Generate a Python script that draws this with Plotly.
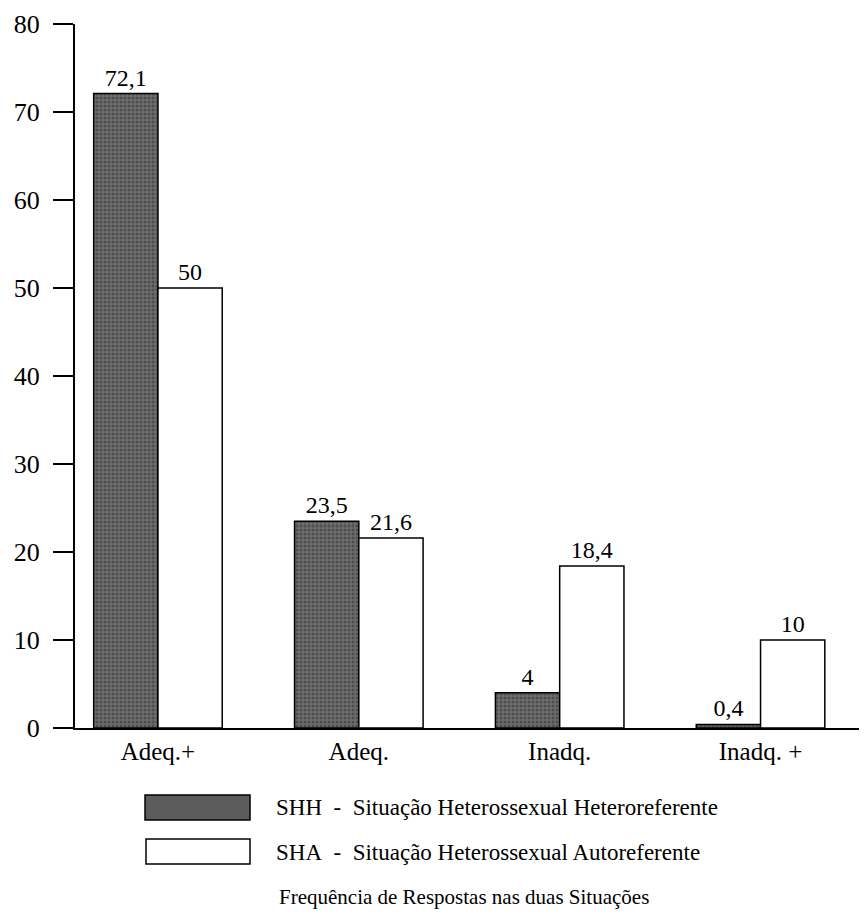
import plotly.graph_objects as go

categories = ["Adeq.+", "Adeq.", "Inadq.", "Inadq. +"]
shh_values = [72.1, 23.5, 4.0, 0.4]
sha_values = [50.0, 21.6, 18.4, 10.0]
shh_labels = ["72,1", "23,5", "4", "0,4"]
sha_labels = ["50", "21,6", "18,4", "10"]
y_ticks = [0, 10, 20, 30, 40, 50, 60, 70, 80]
NB = "\u00a0"
legend_texts = [f"SHH{NB*2}-{NB*2}Situação Heterossexual Heteroreferente",
                f"SHA{NB*2}-{NB*2}Situação Heterossexual Autoreferente"]
caption = "Frequência de Respostas nas duas Situações"

FONT = "Liberation Serif"
OFF = 8  # page body margin
W, H = 867 - OFF, 915 - OFF
# plot area in page pixels: left 75, top 24, bottom 728, right 867
ML, MR, MT, MB = 75 - OFF, 0, 24 - OFF, 915 - 728
PW, PH = W - ML - MR, H - MT - MB


def px(x):
    return (x - OFF - ML) / PW


def py(y):
    return (H - MB - (y - OFF)) / PH


fig = go.Figure()
fig.add_trace(go.Bar(
    x=categories, y=shh_values, text=shh_labels, name="SHH",
    textposition="outside", textfont=dict(family=FONT, size=24, color="black"),
    marker=dict(color="#5c5c5c", line=dict(color="black", width=1.5),
                pattern=dict(shape=".", fgcolor="#2b2b2b", bgcolor="#6e6e6e",
                             size=4, solidity=0.45)),
    cliponaxis=False, showlegend=False,
))
fig.add_trace(go.Bar(
    x=categories, y=sha_values, text=sha_labels, name="SHA",
    textposition="outside", textfont=dict(family=FONT, size=24, color="black"),
    marker=dict(color="white", line=dict(color="black", width=1.5)),
    cliponaxis=False, showlegend=False,
))

shapes = []
shapes.append(dict(type="rect", xref="paper", yref="paper",
                   x0=px(145), x1=px(250), y0=py(820), y1=py(795),
                   fillcolor="#5c5c5c", line=dict(color="black", width=1.5)))
shapes.append(dict(type="rect", xref="paper", yref="paper",
                   x0=px(146), x1=px(250), y0=py(864), y1=py(839),
                   fillcolor="white", line=dict(color="black", width=1.5)))

annotations = []
for t, yc in zip(legend_texts, [807, 852]):
    annotations.append(dict(text=t, xref="paper", yref="paper", x=px(274), y=py(yc),
                            xanchor="left", yanchor="middle", showarrow=False,
                            font=dict(family=FONT, size=23, color="black")))
annotations.append(dict(text=caption, xref="paper", yref="paper", x=px(277), y=py(897),
                        xanchor="left", yanchor="middle", showarrow=False,
                        font=dict(family=FONT, size=21, color="black")))

fig.update_layout(
    width=W, height=H,
    margin=dict(l=ML, r=MR, t=MT, b=MB, pad=0, autoexpand=False),
    paper_bgcolor="white", plot_bgcolor="white",
    barmode="group", bargap=0.36, bargroupgap=0,
    font=dict(family=FONT, color="black"),
    shapes=shapes, annotations=annotations,
    xaxis=dict(range=[-0.413, 3.53], showline=True, linecolor="black", linewidth=2,
               ticks="", showgrid=False, zeroline=False, automargin=False,
               tickfont=dict(family=FONT, size=25), ticklabelstandoff=0),
    yaxis=dict(range=[0, 80], tickvals=y_ticks, showline=True, linecolor="black",
               linewidth=2, ticks="outside", ticklen=20, tickwidth=1.5, tickcolor="black",
               showgrid=False, zeroline=False, automargin=False,
               tickfont=dict(family=FONT, size=26),
               ticklabelstandoff=8, ticklabeloverflow="allow"),
)

fig.write_html("out.html")
